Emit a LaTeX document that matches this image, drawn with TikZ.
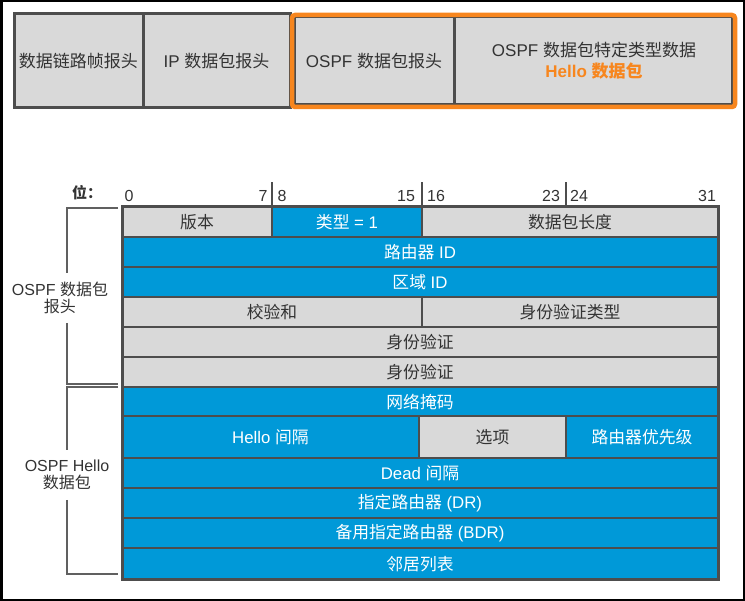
\documentclass[tikz,border=0pt]{standalone}
\usepackage{fontspec}
\setmainfont{Liberation Sans}
\newfontfamily\cjk{Noto Sans CJK SC}
\definecolor{cblue}{HTML}{0099D8}
\definecolor{cgray}{HTML}{D9D9D9}
\definecolor{cline}{HTML}{4D4D4D}
\definecolor{ctext}{HTML}{333333}
\definecolor{corange}{HTML}{F7861E}
\definecolor{cbrack}{HTML}{606060}
\newcommand\tabfont{\fontsize{16.8}{20}\selectfont}
\newcommand\mycell[7]{\node[#6, minimum width={#4-#2}, minimum height={#5-#3}] (#1) at (#2,#3) {#7};}
\begin{document}
\begin{tikzpicture}[x=1pt,y=-1pt,
  cellbase/.style={draw=cline, line width=2.5, inner sep=0, outer sep=0, anchor=north west, font=\tabfont},
  cellg/.style={cellbase, fill=cgray, text=ctext},
  cellb/.style={cellbase, fill=cblue, text=white},
  topbox/.style={cellbase, line width=3, fill=cgray, text=ctext, font=\fontsize{17}{20}\selectfont},
  bitnum/.style={text=ctext, inner sep=0, font=\fontsize{16}{19}\selectfont},
  brack/.style={draw=cbrack, line width=2},
  bracklbl/.style={text=ctext, align=center, inner sep=0, font=\fontsize{16}{19}\selectfont},
  tick/.style={draw=cline, line width=2.5}]
\useasboundingbox (0,0) rectangle (745,601);
\draw[black, line width=2.5] (1.25,1.25) rectangle (743.75,599.75);

% top bar
\mycell{b1}{14}{14}{143}{108}{topbox}{\cjk 数据链路帧报头}
\mycell{b2}{143}{14}{290}{108}{topbox}{IP {\cjk 数据包报头}}
\mycell{b3}{294}{17}{454}{105}{topbox}{OSPF {\cjk 数据包报头}}
\mycell{b4}{454}{17}{732}{105}{topbox}{}
\node[text=ctext, inner sep=0, font=\fontsize{17}{20}\selectfont] (b4a) at (594,50) {OSPF {\cjk 数据包特定类型数据}};
\node[text=corange, inner sep=0, font=\fontsize{17}{20}\selectfont\bfseries] (b4b) at (594,71) {Hello {\cjk\bfseries 数据包}};
\draw[corange, line width=4.5, rounded corners=3] (b3.north west) ++(-2,-2) rectangle ([shift={(3,2)}]b4.south east);

% bit header
\node[text=ctext, inner sep=0, font=\fontsize{15}{18}\selectfont\bfseries] (wei) at (87,193) {\cjk\bfseries 位：};
\node[bitnum] (n0) at (129,196) {0};
\node[bitnum] (n7) at (263,196) {7};
\node[bitnum] (n8) at (282,196) {8};
\node[bitnum] (n15) at (406,196) {15};
\node[bitnum] (n16) at (436,196) {16};
\node[bitnum] (n23) at (551,196) {23};
\node[bitnum] (n24) at (579,196) {24};
\node[bitnum] (n31) at (707,196) {31};

% table
\mycell{c1}{122}{207}{272}{237}{cellg}{\cjk 版本}
\mycell{c2}{272}{207}{422}{237}{cellb}{{\cjk 类型} = 1}
\mycell{c3}{422}{207}{718}{237}{cellg}{\cjk 数据包长度}
\mycell{r2}{122}{237}{718}{267}{cellb}{{\cjk 路由器} ID}
\mycell{r3}{122}{267}{718}{297}{cellb}{{\cjk 区域} ID}
\mycell{c4a}{122}{297}{422}{327}{cellg}{\cjk 校验和}
\mycell{c4b}{422}{297}{718}{327}{cellg}{\cjk 身份验证类型}
\mycell{r5}{122}{327}{718}{357}{cellg}{\cjk 身份验证}
\mycell{r6}{122}{357}{718}{387}{cellg}{\cjk 身份验证}
\mycell{r7}{122}{387}{718}{416}{cellb}{\cjk 网络掩码}
\mycell{c8a}{122}{416}{419}{458}{cellb}{Hello {\cjk 间隔}}
\mycell{c8b}{419}{416}{566}{458}{cellg}{\cjk 选项}
\mycell{c8c}{566}{416}{718}{458}{cellb}{\cjk 路由器优先级}
\mycell{r9}{122}{458}{718}{488}{cellb}{Dead {\cjk 间隔}}
\mycell{r10}{122}{488}{718}{518}{cellb}{{\cjk 指定路由器} (DR)}
\mycell{r11}{122}{518}{718}{548}{cellb}{{\cjk 备用指定路由器} (BDR)}
\mycell{r12}{122}{548}{718}{580}{cellb}{\cjk 邻居列表}
\draw[cline, line width=3] (c1.north west) rectangle (r12.south east);

% ticks
\coordinate (t24) at (566,207);
\draw[tick] (c1.north east) -- ++(0,-25);
\draw[tick] (c2.north east) -- ++(0,-25);
\draw[tick] (t24) -- ++(0,-25);

% brackets
\node[bracklbl] (hdr) at (60,298) {OSPF {\cjk 数据包}\\[-2pt]{\cjk 报头}};
\node[bracklbl] (hel) at (67,475) {OSPF Hello\\[-2pt]{\cjk 数据包}};
\coordinate (h1) at (118,208);
\coordinate (h2) at (118,384);
\coordinate (g1) at (118,387);
\coordinate (g2) at (118,574);
\draw[brack] (h1) -- (67,208) -- (67,273);
\draw[brack] (67,323) -- (67,384) -- (h2);
\draw[brack] (g1) -- (67,387) -- (67,450);
\draw[brack] (67,500) -- (67,574) -- (g2);
\end{tikzpicture}
\end{document}
